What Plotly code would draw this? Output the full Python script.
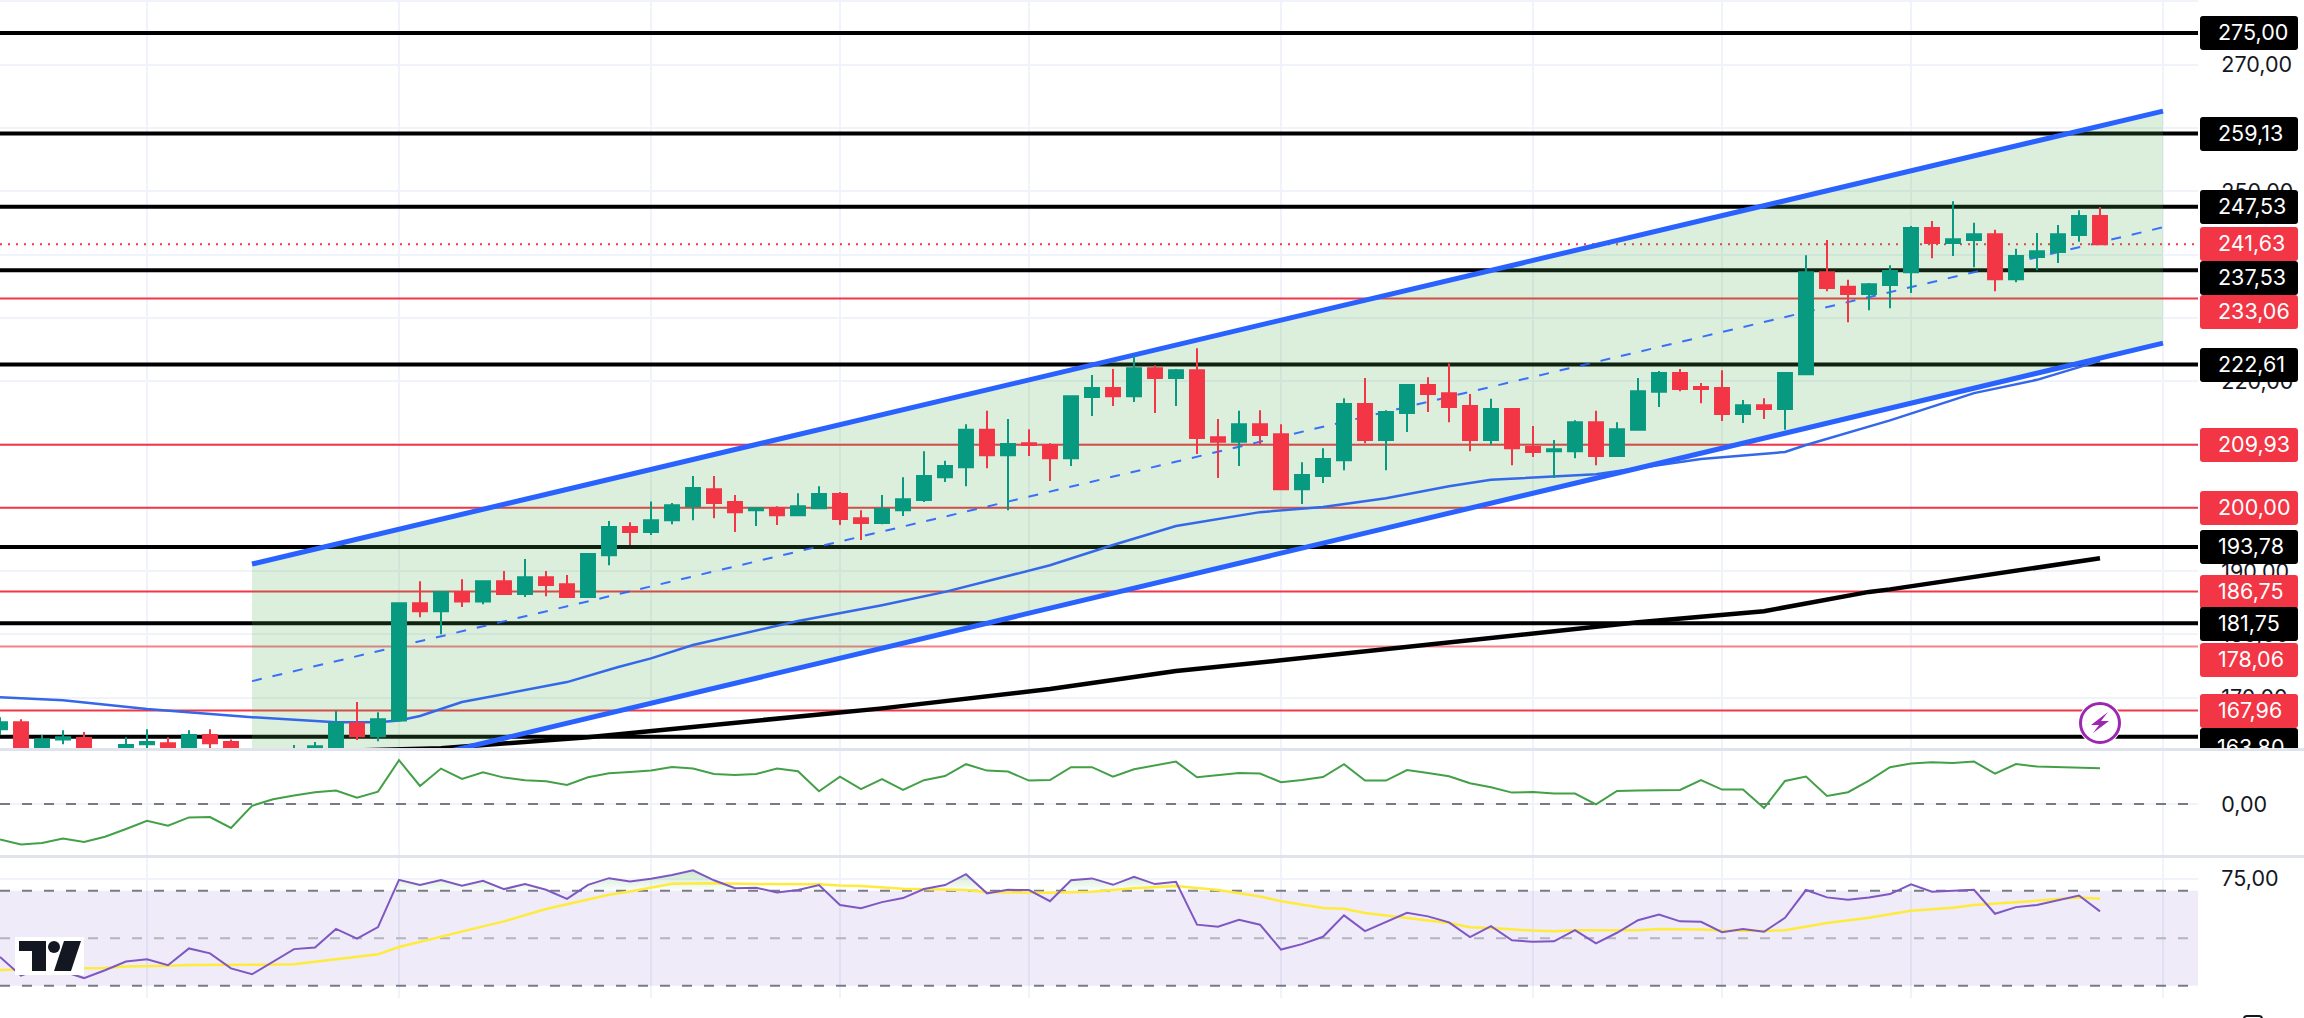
import plotly.graph_objects as go

W, H = 2304, 1018
PLOT_R = 2198
BAR_PX = 21
XMAX = PLOT_R / BAR_PX

# ---------- data ----------
opens = [165.0,166.1,161.4,163.4,163.6,160.1,161.4,162.65,162.8,161.4,164.1,163.0,161.4,160.0,160.8,162.0,162.2,165.95,163.9,166.4,
         184.9,183.65,186.7,185.2,188.4,186.35,189.0,187.9,185.9,192.5,196.95,196.15,198.0,200.25,202.9,200.9,199.6,199.9,198.8,199.9,
         202.15,198.35,197.6,199.6,201.2,204.8,206.4,212.3,208.3,210.2,209.9,207.8,217.5,218.9,217.6,222.05,220.5,221.7,211.15,210.4,
         213.2,211.6,202.9,205.0,207.5,216.4,210.7,214.95,219.4,218.1,216.05,210.7,215.6,209.6,208.9,208.9,213.5,208.15,212.3,218.3,
         221.3,219.05,218.9,214.8,216.2,215.6,221.1,237.2,234.9,233.75,235.2,237.2,244.2,241.8,242.3,243.2,236.1,239.6,240.4,243.1,246.1]
highs = [166.9,166.6,164.1,164.85,164.55,161.7,163.75,165.0,163.75,164.85,165.0,163.4,161.6,161.5,162.5,163.0,167.9,169.3,167.7,184.9,
         188.4,186.7,188.7,188.4,190.0,191.9,190.0,189.35,192.7,197.9,197.7,201.0,200.75,205.0,205.0,202.0,199.9,200.25,202.3,203.4,
         202.5,199.6,202.0,204.8,208.9,207.4,213.2,215.3,214.0,212.4,210.2,217.6,220.95,221.9,223.95,222.5,221.9,225.2,214.0,215.3,
         215.4,213.2,207.2,209.4,217.3,220.5,215.4,219.5,220.6,222.8,217.95,217.2,215.6,212.9,210.7,213.8,215.3,213.5,220.5,221.6,
         221.9,219.7,221.7,217.0,217.3,221.4,239.9,242.3,236.0,235.5,238.3,244.5,245.3,248.4,245.0,243.9,240.9,243.4,244.65,247.0,247.5]
lows = [164.1,160.9,160.9,162.65,160.4,159.5,160.9,161.4,161.4,160.9,161.7,160.7,159.0,159.5,160.5,161.7,161.7,163.3,163.1,166.4,
        182.7,180.0,184.3,184.75,186.35,185.9,186.0,185.9,185.9,190.9,194.1,195.7,197.4,198.0,198.35,196.15,197.1,197.25,198.8,199.9,
        197.25,194.9,197.4,198.7,200.9,204.05,203.4,206.25,199.6,208.15,204.2,206.6,214.5,216.05,216.7,214.95,216.05,208.5,204.7,206.6,
        210.05,202.9,200.6,203.9,205.9,210.2,205.9,211.95,215.1,213.5,208.9,209.9,206.7,208.0,204.7,207.8,206.7,208.0,212.3,215.9,
        218.4,216.5,213.7,213.4,214.0,212.3,221.1,234.2,229.3,231.2,231.5,233.9,239.4,239.75,238.0,234.2,235.6,237.5,238.65,242.0,241.63]
closes = [166.1,161.4,163.4,163.75,160.9,161.4,162.5,163.0,161.7,164.1,162.8,161.4,160.0,161.0,161.6,162.3,165.95,163.9,166.6,184.9,
          183.65,186.7,185.2,188.4,186.35,189.0,187.8,185.9,192.7,196.95,196.15,198.0,200.4,203.1,200.75,199.3,199.9,198.8,200.25,202.15,
          198.2,197.6,199.8,201.35,205.0,206.6,212.3,208.3,210.05,209.9,207.8,217.6,218.9,217.6,222.05,220.5,221.7,211.0,210.4,213.2,
          211.5,202.9,205.15,207.7,216.4,210.7,215.1,219.4,217.95,215.9,210.7,215.6,209.4,208.8,209.25,213.5,208.15,212.4,218.4,221.3,
          218.75,218.75,214.8,216.2,215.6,221.3,237.2,234.7,233.75,235.3,237.4,244.2,241.8,242.4,243.2,236.1,239.75,240.5,243.2,246.1,241.63]

ma_blue_x = [0,3,7,10,12,16,18,19,20,22,24.6,27,29.4,31,33,38,42,45,50,53,56,60,63,66,69,71,76,81,85,86,90,94,97,100]
ma_blue_y = [170.05,169.6,168.2,167.4,166.9,166.1,166.1,166.4,167.1,169.3,171.0,172.45,174.8,176.2,178.3,182.1,184.6,186.7,190.9,194.1,
             197.1,199.3,200.1,201.5,203.4,204.4,205.3,207.7,208.8,209.9,213.8,218.1,220.2,223.2]
ma_black_x = [14,21,28,38,42,50,56,61,71,78,84,89,90,100]
ma_black_y = [161.4,162.0,163.75,166.9,168.3,171.35,174.2,175.9,179.4,181.9,183.65,186.7,187.1,192.0]

channel_x = [12, 103]
channel_top = [191.1, 262.66]
channel_mid = [172.6, 244.3]
channel_bot = [154.1, 226.0]

black_levels = [275.0, 259.13, 247.53, 237.53, 222.61, 193.78, 181.75, 163.80]
red_levels = [233.06, 209.93, 200.0, 186.75, 167.96]
faded_red_levels = [178.06]
last_price = 241.63

price_ticks = [170, 180, 190, 200, 210, 220, 230, 240, 250, 260, 270, 280]
price_tick_text = ["170,00","180,00","190,00","200,00","210,00","220,00","230,00","240,00","250,00","260,00","270,00","280,00"]
time_ticks = [7, 19, 31, 40, 49, 61, 73, 82, 91, 103]

osc = [-0.177,-0.202,-0.195,-0.172,-0.19,-0.164,-0.125,-0.084,-0.109,-0.067,-0.065,-0.12,-0.009,0.024,0.042,0.059,0.067,0.032,0.062,0.219,
       0.09,0.177,0.125,0.159,0.132,0.119,0.114,0.095,0.134,0.154,0.16,0.167,0.185,0.177,0.15,0.145,0.15,0.177,0.164,0.064,
       0.137,0.074,0.124,0.07,0.119,0.14,0.199,0.167,0.162,0.117,0.12,0.184,0.184,0.137,0.174,0.194,0.212,0.134,0.145,0.155,
       0.152,0.109,0.12,0.135,0.199,0.117,0.117,0.17,0.155,0.139,0.104,0.084,0.057,0.06,0.052,0.052,-0.002,0.065,0.067,0.07,
       0.07,0.12,0.072,0.072,-0.02,0.115,0.137,0.04,0.059,0.117,0.184,0.202,0.209,0.205,0.212,0.152,0.2,0.187,0.185,0.182,0.179]

rsi = [42.1,34.2,37.4,36.0,33.2,36.5,40.2,41.1,38.6,45.7,43.6,37.3,34.8,40.0,45.4,46.1,53.9,49.8,54.7,74.6,
       72.4,74.5,72.1,74.2,70.7,72.8,70.4,66.6,72.5,75.3,73.9,75.1,76.6,78.6,74.4,71.1,71.3,69.3,70.3,72.4,
       64.0,62.6,65.2,66.9,70.7,72.4,77.0,68.9,70.4,70.3,65.6,74.4,75.2,72.5,75.9,72.8,73.8,55.7,54.8,57.8,
       55.7,45.2,47.5,50.6,59.6,53.0,56.7,60.7,59.2,56.7,50.5,55.1,49.1,48.5,48.7,53.4,47.8,52.3,57.6,60.0,
       57.1,56.9,52.5,53.9,52.7,58.6,70.3,67.2,66.2,67.2,68.6,72.7,69.6,69.9,70.4,60.3,63.1,64.0,66.1,68.0,61.3]
rsi_ma_x = [0,3,5,6,8,9,12,14,16,18,19,21,23,24,26,29,30,32,34,36,38,39,40,41,43,45,46,47,49,50,52,
            54,56,58,60,61,63,64,65,67,69,70,71,73,74,75,77,78,79,81,82,84,85,87,89,91,93,94,96,98,99,100]
rsi_ma_y = [36.6,37.3,37.4,38.1,38.4,38.7,38.8,39.0,41.1,43.2,46.3,50.8,55.0,57.1,62.3,68.3,69.7,72.9,73.2,72.8,72.7,72.7,72.2,72.0,70.8,70.4,70.3,69.4,69.4,69.2,69.6,
            71.1,72.0,70.3,67.6,65.6,62.7,62.4,60.6,58.4,56.4,54.6,54.3,53.2,52.9,53.4,53.4,53.4,53.9,53.7,53.2,53.0,53.4,56.4,58.6,61.6,62.8,64.0,65.1,66.6,67.2,66.6]

tag_values = ["275,00","259,13","247,53","241,63","237,53","233,06","222,61","209,93","200,00","193,78","186,75","181,75","178,06","167,96"]
tag_kinds = ["b","b","b","r","b","r","b","r","r","b","r","b","r","r"]
tag_centers = [33, 134, 207, 244, 278, 312, 365, 445, 508, 547, 592, 624, 660, 711]

# ---------- pixel helpers for page furniture ----------
def px(x): return x / W
def py(y): return 1 - y / H
BLACK, RED = "#000000", "#f23645"
UP, DOWN = "#089981", "#f23645"
GRID = "#f0f3fa"
TXT = "#131722"
FONT = "Inter"
FS = 21.5

MAIN_B, P2_T, P2_B, P3_T, P3_B = 748, 751, 855, 858, 998

def rr(x0, y0, x1, y1, r=3, square_bottom=False):
    d = [f"M{px(x0+r)},{py(y0)}", f"L{px(x1-r)},{py(y0)}", f"Q{px(x1)},{py(y0)} {px(x1)},{py(y0+r)}"]
    if square_bottom:
        d += [f"L{px(x1)},{py(y1)}", f"L{px(x0)},{py(y1)}"]
    else:
        d += [f"L{px(x1)},{py(y1-r)}", f"Q{px(x1)},{py(y1)} {px(x1-r)},{py(y1)}",
              f"L{px(x0+r)},{py(y1)}", f"Q{px(x0)},{py(y1)} {px(x0)},{py(y1-r)}"]
    d += [f"L{px(x0)},{py(y0+r)}", f"Q{px(x0)},{py(y0)} {px(x0+r)},{py(y0)}", "Z"]
    return "".join(d)

def poly(pts):
    return "M" + "L".join(f"{px(x)},{py(y)}" for x, y in pts) + "Z"

fig = go.Figure()
xs = list(range(len(opens)))

# channel
fig.add_trace(go.Scatter(x=[channel_x[0], channel_x[1], channel_x[1], channel_x[0]],
                         y=[channel_top[0], channel_top[1], channel_bot[1], channel_bot[0]],
                         mode="lines", line=dict(width=0), fill="toself",
                         fillcolor="rgba(76,175,80,0.2)", xaxis="x", yaxis="y"))
fig.add_trace(go.Scatter(x=ma_black_x, y=ma_black_y, mode="lines", line=dict(color="#000000", width=4.5), xaxis="x", yaxis="y"))
fig.add_trace(go.Scatter(x=ma_blue_x, y=ma_blue_y, mode="lines", line=dict(color="#3468e8", width=2.5), xaxis="x", yaxis="y"))
fig.add_trace(go.Scatter(x=channel_x, y=channel_mid, mode="lines", line=dict(color="#2962ff", width=2, dash="10px,11px"), opacity=0.9, xaxis="x", yaxis="y"))
fig.add_trace(go.Scatter(x=channel_x, y=channel_top, mode="lines", line=dict(color="#2962ff", width=5), xaxis="x", yaxis="y"))
fig.add_trace(go.Scatter(x=channel_x, y=channel_bot, mode="lines", line=dict(color="#2962ff", width=5), xaxis="x", yaxis="y"))

# candles on an overlay axis so that they sit above the lines
fig.add_trace(go.Candlestick(x=xs, open=opens, high=highs, low=lows, close=closes,
                             increasing=dict(line=dict(color=UP, width=2), fillcolor=UP),
                             decreasing=dict(line=dict(color=DOWN, width=2), fillcolor=DOWN),
                             whiskerwidth=0, xaxis="x", yaxis="y4"))

# oscillator
fig.add_trace(go.Scatter(x=[0, XMAX], y=[0, 0], mode="lines", line=dict(color="#787b86", width=2, dash="10px,12px"), xaxis="x2", yaxis="y2"))
fig.add_trace(go.Scatter(x=xs, y=osc, mode="lines", line=dict(color="#43a047", width=2), xaxis="x2", yaxis="y2"))

# RSI
for lvl, col in ((70, "#787b86"), (50, "#b2b5be"), (30, "#787b86")):
    fig.add_trace(go.Scatter(x=[0, XMAX], y=[lvl, lvl], mode="lines", line=dict(color=col, width=2, dash="10px,12px"), xaxis="x3", yaxis="y3"))

fx, fy = [], []
for i, v in enumerate(rsi):
    if i and (rsi[i-1] - 70) * (v - 70) < 0:
        fx.append(i - 1 + (70 - rsi[i-1]) / (v - rsi[i-1]))
        fy.append(70)
    fx.append(i)
    fy.append(max(v, 70))
fig.add_trace(go.Scatter(x=[0, 100], y=[70, 70], mode="lines", line=dict(width=0), xaxis="x3", yaxis="y3"))
fig.add_trace(go.Scatter(x=fx, y=fy, mode="lines", line=dict(width=0), fill="tonexty",
                         fillgradient=dict(type="vertical", start=70, stop=79,
                                           colorscale=[[0, "rgba(76,175,80,0.02)"], [1, "rgba(76,175,80,0.3)"]]),
                         xaxis="x3", yaxis="y3"))
fig.add_trace(go.Scatter(x=rsi_ma_x, y=rsi_ma_y, mode="lines", line=dict(color="#ffeb3b", width=2.5), xaxis="x3", yaxis="y3"))
fig.add_trace(go.Scatter(x=xs, y=rsi, mode="lines", line=dict(color="#7e57c2", width=2), xaxis="x3", yaxis="y3"))

# ---------- shapes ----------
shapes = []
for v in black_levels:
    shapes.append(dict(type="line", layer="between", xref="x", yref="y", x0=0, x1=XMAX, y0=v, y1=v, line=dict(color=BLACK, width=4)))
for v in red_levels:
    shapes.append(dict(type="line", layer="between", xref="x", yref="y", x0=0, x1=XMAX, y0=v, y1=v, line=dict(color=RED, width=2)))
for v in faded_red_levels:
    shapes.append(dict(type="line", layer="between", xref="x", yref="y", x0=0, x1=XMAX, y0=v, y1=v, line=dict(color="#f7808a", width=2)))
shapes.append(dict(type="line", layer="between", xref="x", yref="y", x0=0, x1=XMAX, y0=last_price, y1=last_price,
                   line=dict(color=RED, width=2, dash="2px,6px")))
shapes.append(dict(type="rect", layer="between", xref="x3", yref="y3", x0=0, x1=XMAX, y0=30, y1=70,
                   fillcolor="rgba(126,87,194,0.12)", line=dict(width=0)))
# pane separators
for y0, y1 in ((748, 751), (855, 858)):
    shapes.append(dict(type="rect", layer="above", xref="paper", yref="paper", x0=0, x1=1, y0=py(y1), y1=py(y0),
                       fillcolor="#e0e3eb", line=dict(width=0)))
# price tags
anns = []
shapes.append(dict(type="path", layer="above", xref="paper", yref="paper", path=rr(2200, 728, 2298, 748, square_bottom=True),
                   fillcolor=BLACK, line=dict(width=0)))
anns.append(dict(text="163,80", xref="paper", yref="paper", x=px(2216), y=py(733), xanchor="left", yanchor="top", valign="top",
                 height=15, borderpad=0, showarrow=False, font=dict(family=FONT, size=FS, color="#ffffff")))
for label, kind, c in zip(tag_values, tag_kinds, tag_centers):
    shapes.append(dict(type="path", layer="above", xref="paper", yref="paper", path=rr(2200, c - 17, 2298, c + 17),
                       fillcolor=BLACK if kind == "b" else RED, line=dict(width=0)))
    anns.append(dict(text=label, xref="paper", yref="paper", x=px(2216), y=py(c - 1), xanchor="left", yanchor="middle",
                     showarrow=False, font=dict(family=FONT, size=FS, color="#ffffff")))
# TradingView mark
shapes.append(dict(type="path", layer="above", xref="paper", yref="paper", path=poly([(15, 937), (84, 937), (84, 975), (15, 975)]),
                   fillcolor="#ffffff", line=dict(width=0)))
shapes.append(dict(type="path", layer="above", xref="paper", yref="paper",
                   path=poly([(19, 941), (46, 941), (46, 971), (32, 971), (32, 951), (19, 951)]), fillcolor=TXT, line=dict(width=0)))
shapes.append(dict(type="path", layer="above", xref="paper", yref="paper",
                   path=poly([(64, 941), (81, 941), (71, 971), (54, 971)]), fillcolor=TXT, line=dict(width=0)))
shapes.append(dict(type="circle", layer="above", xref="paper", yref="paper", x0=px(48), x1=px(60), y0=py(953), y1=py(941),
                   fillcolor=TXT, line=dict(width=0)))
# lightning badge
shapes.append(dict(type="circle", layer="above", xref="paper", yref="paper", x0=px(2078), x1=px(2122), y0=py(745), y1=py(701),
                   fillcolor="#ffffff", line=dict(width=0)))
shapes.append(dict(type="circle", layer="above", xref="paper", yref="paper", x0=px(2080.5), x1=px(2119.5), y0=py(742.5), y1=py(703.5),
                   fillcolor="#ffffff", line=dict(color="#9c27b0", width=3)))
shapes.append(dict(type="path", layer="above", xref="paper", yref="paper",
                   path=poly([(2108, 712), (2091, 725), (2099, 725), (2093, 733), (2109, 721), (2101, 721)]),
                   fillcolor="#9c27b0", line=dict(width=0)))
# corner icon just visible at the page bottom
shapes.append(dict(type="path", layer="above", xref="paper", yref="paper", path=rr(2244, 1016, 2262, 1032, r=3),
                   fillcolor="rgba(0,0,0,0)", line=dict(color=TXT, width=2)))

common_x = dict(range=[0, XMAX], domain=[0, PLOT_R / W], showticklabels=False, ticks="", showline=False, zeroline=False,
                tickmode="array", tickvals=time_ticks, showgrid=True, gridcolor=GRID, gridwidth=2)
common_y = dict(side="right", anchor="x", showline=False, zeroline=False, ticks="outside", ticklen=18, tickwidth=0,
                tickcolor="rgba(0,0,0,0)", tickfont=dict(family=FONT, size=FS, color=TXT), showgrid=True, gridcolor=GRID, gridwidth=2)
main_range = [162.04, 280.205]

fig.update_layout(
    width=W, height=H, margin=dict(l=0, r=0, t=0, b=0), autosize=False, showlegend=False,
    paper_bgcolor="#ffffff", plot_bgcolor="#ffffff", hovermode=False, boxgap=0.05,
    shapes=shapes, annotations=anns,
    xaxis=dict(**common_x, anchor="y", rangeslider=dict(visible=False)),
    xaxis2=dict(**common_x, anchor="y2"),
    xaxis3=dict(**common_x, anchor="y3"),
    yaxis=dict(**common_y, domain=[py(MAIN_B), py(0)], range=main_range, tickmode="array", tickvals=price_ticks, ticktext=price_tick_text),
    yaxis4=dict(overlaying="y", side="right", anchor="x", range=main_range, showgrid=False, showticklabels=False, zeroline=False, ticks=""),
    yaxis2=dict(**{**common_y, "anchor": "x2"}, domain=[py(P2_B), py(P2_T)], range=[-0.255, 0.265], tickmode="array", tickvals=[0], ticktext=["0,00"]),
    yaxis3=dict(**{**common_y, "anchor": "x3"}, domain=[py(P3_B), py(P3_T)], range=[24.8, 83.8], tickmode="array", tickvals=[75], ticktext=["75,00"]),
)

fig.write_html("out.html", config={"displayModeBar": False},
               post_script="document.body.style.margin='0';document.documentElement.style.overflow='hidden';")
